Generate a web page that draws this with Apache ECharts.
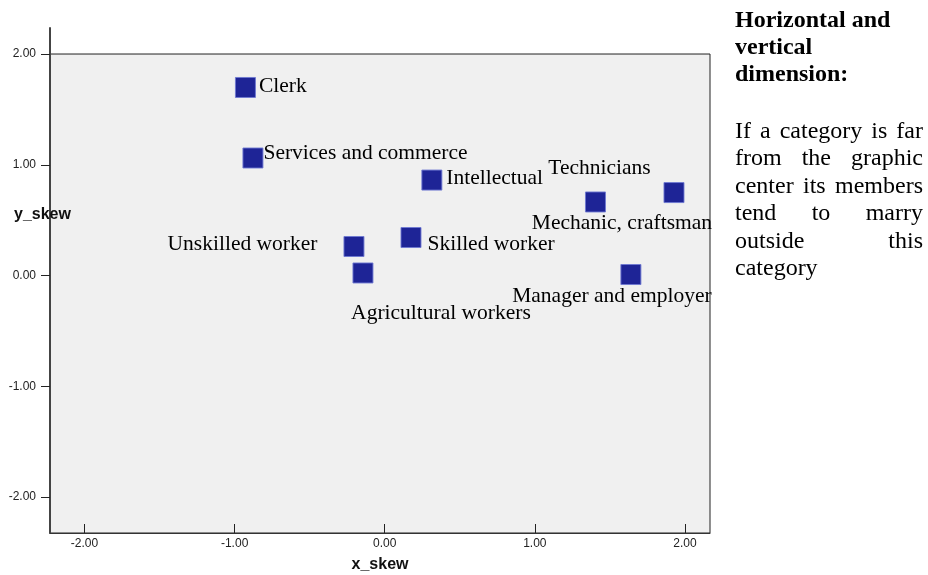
<!DOCTYPE html>
<html>
<head>
<meta charset="utf-8">
<script src="https://cdn.jsdelivr.net/npm/echarts@6/dist/echarts.min.js"></script>
<style>
  html, body { margin: 0; padding: 0; background: #fff; }
  #chart { position: absolute; left: 0; top: 0; width: 928px; height: 575px; }
  #title { position: absolute; left: 735px; top: 6px; width: 188px; font: bold 24px 'Liberation Serif', 'Times New Roman', serif; line-height: 27px; color: #000; text-align: left; }
  #body { position: absolute; left: 735px; top: 117px; width: 188px; font: 24px 'Liberation Serif', 'Times New Roman', serif; line-height: 27.4px; color: #000; text-align: justify; }
</style>
</head>
<body>
<div id="chart"></div>
<div id="title">Horizontal and vertical dimension:</div>
<div id="body">If a category is far from the graphic center its members tend to marry outside this category</div>
<script>
// ---- data ----
const categories = ['Clerk', 'Services and commerce', 'Intellectual', 'Technicians', 'Mechanic, craftsman', 'Manager and employer', 'Unskilled worker', 'Skilled worker', 'Agricultural workers'];
const xSkew = [-0.928, -0.878, 0.314, 1.404, 1.927, 1.640, -0.205, 0.175, -0.145];
const ySkew = [1.698, 1.061, 0.862, 0.664, 0.749, 0.009, 0.262, 0.343, 0.023];
const tickValues = [-2, -1, 0, 1, 2];
const xAxisName = 'x_skew';
const yAxisName = 'y_skew';

// ---- axis ranges & label styling ----
const xMin = -2.23, xMax = 2.167;
const yMin = -2.325, yMax = 2.235, plotTop = 2;
const labelStyles = {
  'Clerk': { position: 'right', distance: 3, offset: [0, -1] },
  'Services and commerce': { position: 'right', distance: 0, offset: [0, -5] },
  'Intellectual': { position: 'right', distance: 4, offset: [0, -2] },
  'Technicians': { position: 'inside', offset: [4, -34] },
  'Mechanic, craftsman': { position: 'inside', offset: [-52, 31] },
  'Manager and employer': { position: 'inside', offset: [-19, 22] },
  'Unskilled worker': { position: 'left', distance: 26, offset: [0, -2] },
  'Skilled worker': { position: 'right', distance: 6, offset: [0, 7] },
  'Agricultural workers': { position: 'inside', offset: [78, 40] }
};

const points = categories.map((n, i) => ({
  name: n,
  value: [xSkew[i], ySkew[i]],
  label: Object.assign({ show: true, formatter: '{b}' }, labelStyles[n])
}));

const chart = echarts.init(document.getElementById('chart'), null, { renderer: 'canvas' });
const sans = "'Liberation Sans', Arial, sans-serif";
const serif = "'Liberation Serif', 'Times New Roman', serif";

chart.setOption({
  animation: false,
  backgroundColor: '#ffffff',
  grid: { left: 50, right: 218, top: 28, bottom: 42, outerBoundsMode: 'none', containLabel: false },
  xAxis: {
    type: 'value', min: xMin, max: xMax, z: 10,
    name: xAxisName, nameLocation: 'middle', nameGap: 24,
    nameTextStyle: { fontFamily: sans, fontWeight: 'bold', fontSize: 16, color: '#111' },
    axisLine: { show: true, onZero: false, lineStyle: { color: '#333', width: 1 } },
    axisTick: { show: true, inside: true, length: 9, customValues: tickValues, lineStyle: { color: '#222' } },
    axisLabel: { customValues: tickValues, formatter: v => v.toFixed(2), fontFamily: sans, fontSize: 12, color: '#222', margin: 5 },
    splitLine: { show: false }
  },
  yAxis: {
    type: 'value', min: yMin, max: yMax, z: 10,
    axisLine: { show: true, onZero: false, lineStyle: { color: '#444', width: 2 } },
    axisTick: { show: true, inside: false, length: 9, customValues: tickValues, lineStyle: { color: '#222' } },
    axisLabel: { customValues: tickValues, formatter: v => v.toFixed(2), fontFamily: sans, fontSize: 12, color: '#222', margin: 14 },
    splitLine: { show: false }
  },
  graphic: [{
    type: 'text', left: 14, top: 207, z: 100,
    style: { text: yAxisName, font: "bold 16px 'Liberation Sans', Arial, sans-serif", fill: '#111' }
  }],
  series: [{
    type: 'scatter',
    symbol: 'rect',
    symbolSize: 20,
    itemStyle: { color: '#1e2496', opacity: 1, borderColor: 'rgba(110,120,210,0.9)', borderWidth: 1 },
    label: { fontFamily: serif, fontSize: 21.5, color: '#000' },
    emphasis: { disabled: true },
    data: points,
    markArea: {
      silent: true,
      itemStyle: { color: '#f0f0f0', opacity: 1, borderColor: '#222', borderWidth: 1 },
      data: [[{ xAxis: xMin, yAxis: yMin }, { xAxis: xMax, yAxis: plotTop }]]
    },
    z: 5
  }]
});
</script>
</body>
</html>
